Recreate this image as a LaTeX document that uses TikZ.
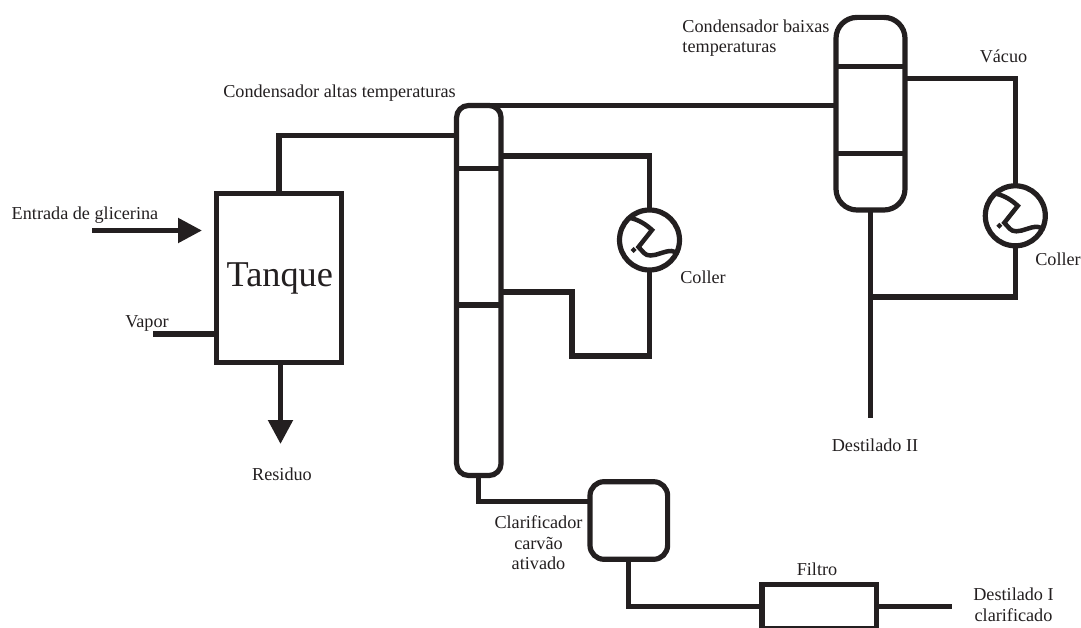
\documentclass[tikz,border=0pt]{standalone}
\usepackage{fontspec}
\setmainfont{Liberation Serif}
\definecolor{traco}{HTML}{231F20}
\usetikzlibrary{arrows.meta,calc}

\begin{document}
\begin{tikzpicture}[x=1pt,y=-1pt,>=Stealth,line width=5.2pt,
  equip/.style={draw=traco,fill=white,rectangle,inner sep=0pt,outer sep=0pt},
  rotulo/.style={text=traco,inner sep=0pt,align=center,font=\fontsize{18.2}{20.5}\selectfont},
  cano/.style={draw=traco,line width=5.2pt,line cap=butt,line join=miter},
  seta/.style={cano,-{Triangle[length=24pt,width=24pt]}},
  every node/.style={outer sep=0pt}]
\useasboundingbox (0,0) rectangle (1081,628);
% equipamentos
\node[equip,minimum width=125pt,minimum height=169pt] (tanque) at (279,278) {};
\node[equip,rounded corners=12pt,minimum width=44.5pt,minimum height=370pt] (altas) at (478.8,290.5) {};
\node[equip,rounded corners=21pt,minimum width=69pt,minimum height=192.6pt] (baixas) at (870.5,113.7) {};
\node[equip,rounded corners=14pt,minimum width=77.6pt,minimum height=77.6pt] (clarif) at (628.8,520.5) {};
\node[equip,minimum width=114.5pt,minimum height=44pt] (filtro) at (819.2,606.5) {};
\node[equip,circle,minimum size=60pt] (coller1) at (649.5,240) {};
\node[equip,circle,minimum size=60pt] (coller2) at (1015.3,215.8) {};
\coordinate (entrada) at (92,230.5);
\coordinate (entradafim) at (202,230.5);
\coordinate (vapor) at (153,334);
\coordinate (residuo) at (280.5,444);
\coordinate (destilado2) at (870.5,418);
\coordinate (destilado1) at (952,606.5);
\coordinate (juncao) at (870.5,297);
% divisorias
\draw[cano] ([yshift=-63pt]altas.north west) -- ([yshift=-63pt]altas.north east);
\draw[cano] ([yshift=-199.5pt]altas.north west) -- ([yshift=-199.5pt]altas.north east);
\draw[cano] ([yshift=-49.3pt]baixas.north west) -- ([yshift=-49.3pt]baixas.north east);
\draw[cano] ([yshift=-136pt]baixas.north west) -- ([yshift=-136pt]baixas.north east);
% detalhe dos resfriadores
\foreach \n in {coller1,coller2} {
  \draw[cano,line width=4.5pt,shift={(\n.center)}] (-19,-22) .. controls (-10,-20) and (-3,-15) .. (2.5,-10) -- (-11,7)
    .. controls (-6,12) and (-5,15.5) .. (1,15.5) .. controls (8,15.5) and (14,11) .. (22,11) -- (29.5,13);
  \fill[traco,shift={(\n.center)}] (-16,7) -- (-13,10) -- (-16,13) -- (-19,10) -- cycle;
}
% ligacoes
\draw[cano] (tanque.north) |- ([yshift=-30pt]altas.north west);
\draw[cano] (altas.north) -- (altas.north -| baixas.west);
\draw[cano] ([yshift=-50.5pt]altas.north east) -| (coller1.north);
\draw[cano] ([yshift=-186.5pt]altas.north east) -| ++(71,64) -| (coller1.south);
\draw[cano] ([yshift=-61pt]baixas.north east) -| (coller2.north);
\draw[cano] (baixas.south) -- (destilado2);
\draw[cano] (juncao) -| (coller2.south);
\draw[seta] (entrada) -- (entradafim);
\draw[cano] (vapor) -- (vapor -| tanque.west);
\draw[seta] (tanque.south -| residuo) -- (residuo);
\draw[cano] (altas.south) |- ([yshift=19pt]clarif.west);
\draw[cano] (clarif.south) |- (filtro.west);
\draw[cano] (filtro.east) -- (destilado1);
% rotulos
\node[rotulo,anchor=base,font=\fontsize{36.3}{40}\selectfont] (ltanque) at (279.8,287) {Tanque};
\node[rotulo] (lentrada) at (85,215) {Entrada de glicerina};
\node[rotulo] (lvapor) at (147,323) {Vapor};
\node[rotulo] (lresiduo) at (282,474) {Residuo};
\node[rotulo] (laltas) at (339.5,93) {Condensador altas temperaturas};
\node[rotulo,align=left] (lbaixas) at (756,38) {Condensador baixas\\temperaturas};
\node[rotulo] (lvacuo) at (1003.5,56) {Vácuo};
\node[rotulo] (lcoller1) at (703,277) {Coller};
\node[rotulo] (lcoller2) at (1058,259) {Coller};
\node[rotulo] (ldest2) at (875,445) {Destilado II};
\node[rotulo] (lclarif) at (538.5,543) {Clarificador\\carvão\\ativado};
\node[rotulo] (lfiltro) at (817,569) {Filtro};
\node[rotulo] (ldest1) at (1013.5,605) {Destilado I\\clarificado};
\end{tikzpicture}
\end{document}
